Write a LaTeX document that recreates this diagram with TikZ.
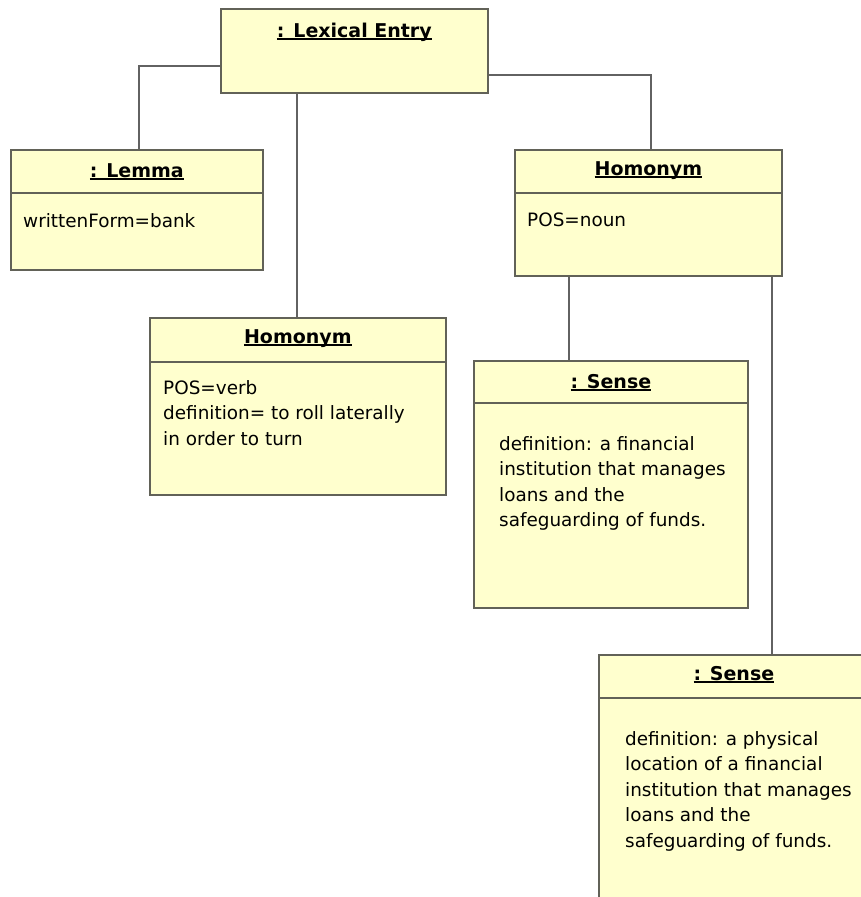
\documentclass[tikz,border=0pt]{standalone}
\usepackage{fontspec}
\setmainfont{DejaVu Sans}
\usetikzlibrary{calc}

\definecolor{boxfill}{RGB}{255,255,206}
\definecolor{boxedge}{RGB}{98,98,88}
\definecolor{linkcol}{RGB}{98,98,98}

% underlined bold object name
\newcommand\objname[1]{\setbox0=\hbox{\bfseries #1}\rlap{\rule[-2.6pt]{\wd0}{1.7pt}}\box0}

\tikzset{
  umlbox/.style={draw=boxedge, fill=boxfill, line width=1.7pt, rectangle,
    inner sep=0pt, anchor=north west},
  hdr/.style={inner sep=0pt, anchor=base, font=\fontsize{19}{25.5}\selectfont},
  attr/.style={inner sep=0pt, anchor=base west, font=\fontsize{18.4}{25.5}\selectfont},
  divider/.style={draw=boxedge, line width=1.7pt},
  link/.style={draw=linkcol, line width=1.9pt}
}

\begin{document}
\begin{tikzpicture}[x=1pt, y=-1pt]
  \useasboundingbox (0,0) rectangle (861,897);
  \fill[white] (0,0) rectangle (861,897);
  \clip (0,0) rectangle (861,897);

  % object boxes
  \node[umlbox, minimum width=267pt, minimum height=84pt]  (lex)   at (220,8)   {};
  \node[umlbox, minimum width=252pt, minimum height=120pt] (lemma) at (10,149)  {};
  \node[umlbox, minimum width=267pt, minimum height=126pt] (homR)  at (514,149) {};
  \node[umlbox, minimum width=296pt, minimum height=177pt] (homL)  at (149,317) {};
  \node[umlbox, minimum width=274pt, minimum height=247pt] (s1)    at (473,360) {};
  \node[umlbox, minimum width=270pt, minimum height=300pt] (s2)    at (598,654) {};

  % compartment dividers
  \draw[divider] ([yshift=-44pt]lemma.north west) -- ([yshift=-44pt]lemma.north east);
  \draw[divider] ([yshift=-44pt]homR.north west)  -- ([yshift=-44pt]homR.north east);
  \draw[divider] ([yshift=-45pt]homL.north west)  -- ([yshift=-45pt]homL.north east);
  \draw[divider] ([yshift=-43pt]s1.north west)    -- ([yshift=-43pt]s1.north east);
  \draw[divider] ([yshift=-44pt]s2.north west)    -- ([yshift=-44pt]s2.north east);

  % object names
  \node[hdr] (lexT)   at ([yshift=-29pt]lex.north)   {\objname{: Lexical Entry}};
  \node[hdr] (lemmaT) at ([yshift=-28pt]lemma.north) {\objname{: Lemma}};
  \node[hdr] (homRT)  at ([yshift=-26pt]homR.north)  {\objname{Homonym}};
  \node[hdr] (homLT)  at ([yshift=-26pt]homL.north)  {\objname{Homonym}};
  \node[hdr] (s1T)    at ([yshift=-28pt]s1.north)    {\objname{: Sense}};
  \node[hdr] (s2T)    at ([yshift=-26pt]s2.north)    {\objname{: Sense}};

  % attribute compartments
  \node[attr] (lemmaA) at ([xshift=13pt,yshift=-78pt]lemma.north west)
    {\begin{tabular}[t]{@{}l@{}}writtenForm=bank\end{tabular}};
  \node[attr] (homRA) at ([xshift=13pt,yshift=-77pt]homR.north west)
    {\begin{tabular}[t]{@{}l@{}}POS=noun\end{tabular}};
  \node[attr] (homLA) at ([xshift=14pt,yshift=-77pt]homL.north west)
    {\begin{tabular}[t]{@{}l@{}}POS=verb\\definition= to roll laterally\\in order to turn\end{tabular}};
  \node[attr] (s1A) at ([xshift=26pt,yshift=-90pt]s1.north west)
    {\begin{tabular}[t]{@{}l@{}}definition: a financial\\institution that manages\\loans and the\\safeguarding of funds.\end{tabular}};
  \node[attr] (s2A) at ([xshift=27pt,yshift=-91pt]s2.north west)
    {\begin{tabular}[t]{@{}l@{}}definition: a physical\\location of a financial\\institution that manages\\loans and the\\safeguarding of funds.\end{tabular}};

  % links
  \draw[link] ([yshift=-15pt]lex.west) -| ([xshift=2pt]lemma.north);
  \draw[link] ([yshift=-24pt]lex.east) -| ([xshift=3pt]homR.north);
  \draw[link] ([xshift=-1pt]homL.north) -- ([xshift=-1pt]homL.north |- lex.south);
  \draw[link] ([xshift=-42pt]s1.north) -- ([xshift=-42pt]s1.north |- homR.south);
  \draw[link] ([xshift=38pt]s2.north) -- ([xshift=38pt]s2.north |- homR.south);
\end{tikzpicture}
\end{document}
